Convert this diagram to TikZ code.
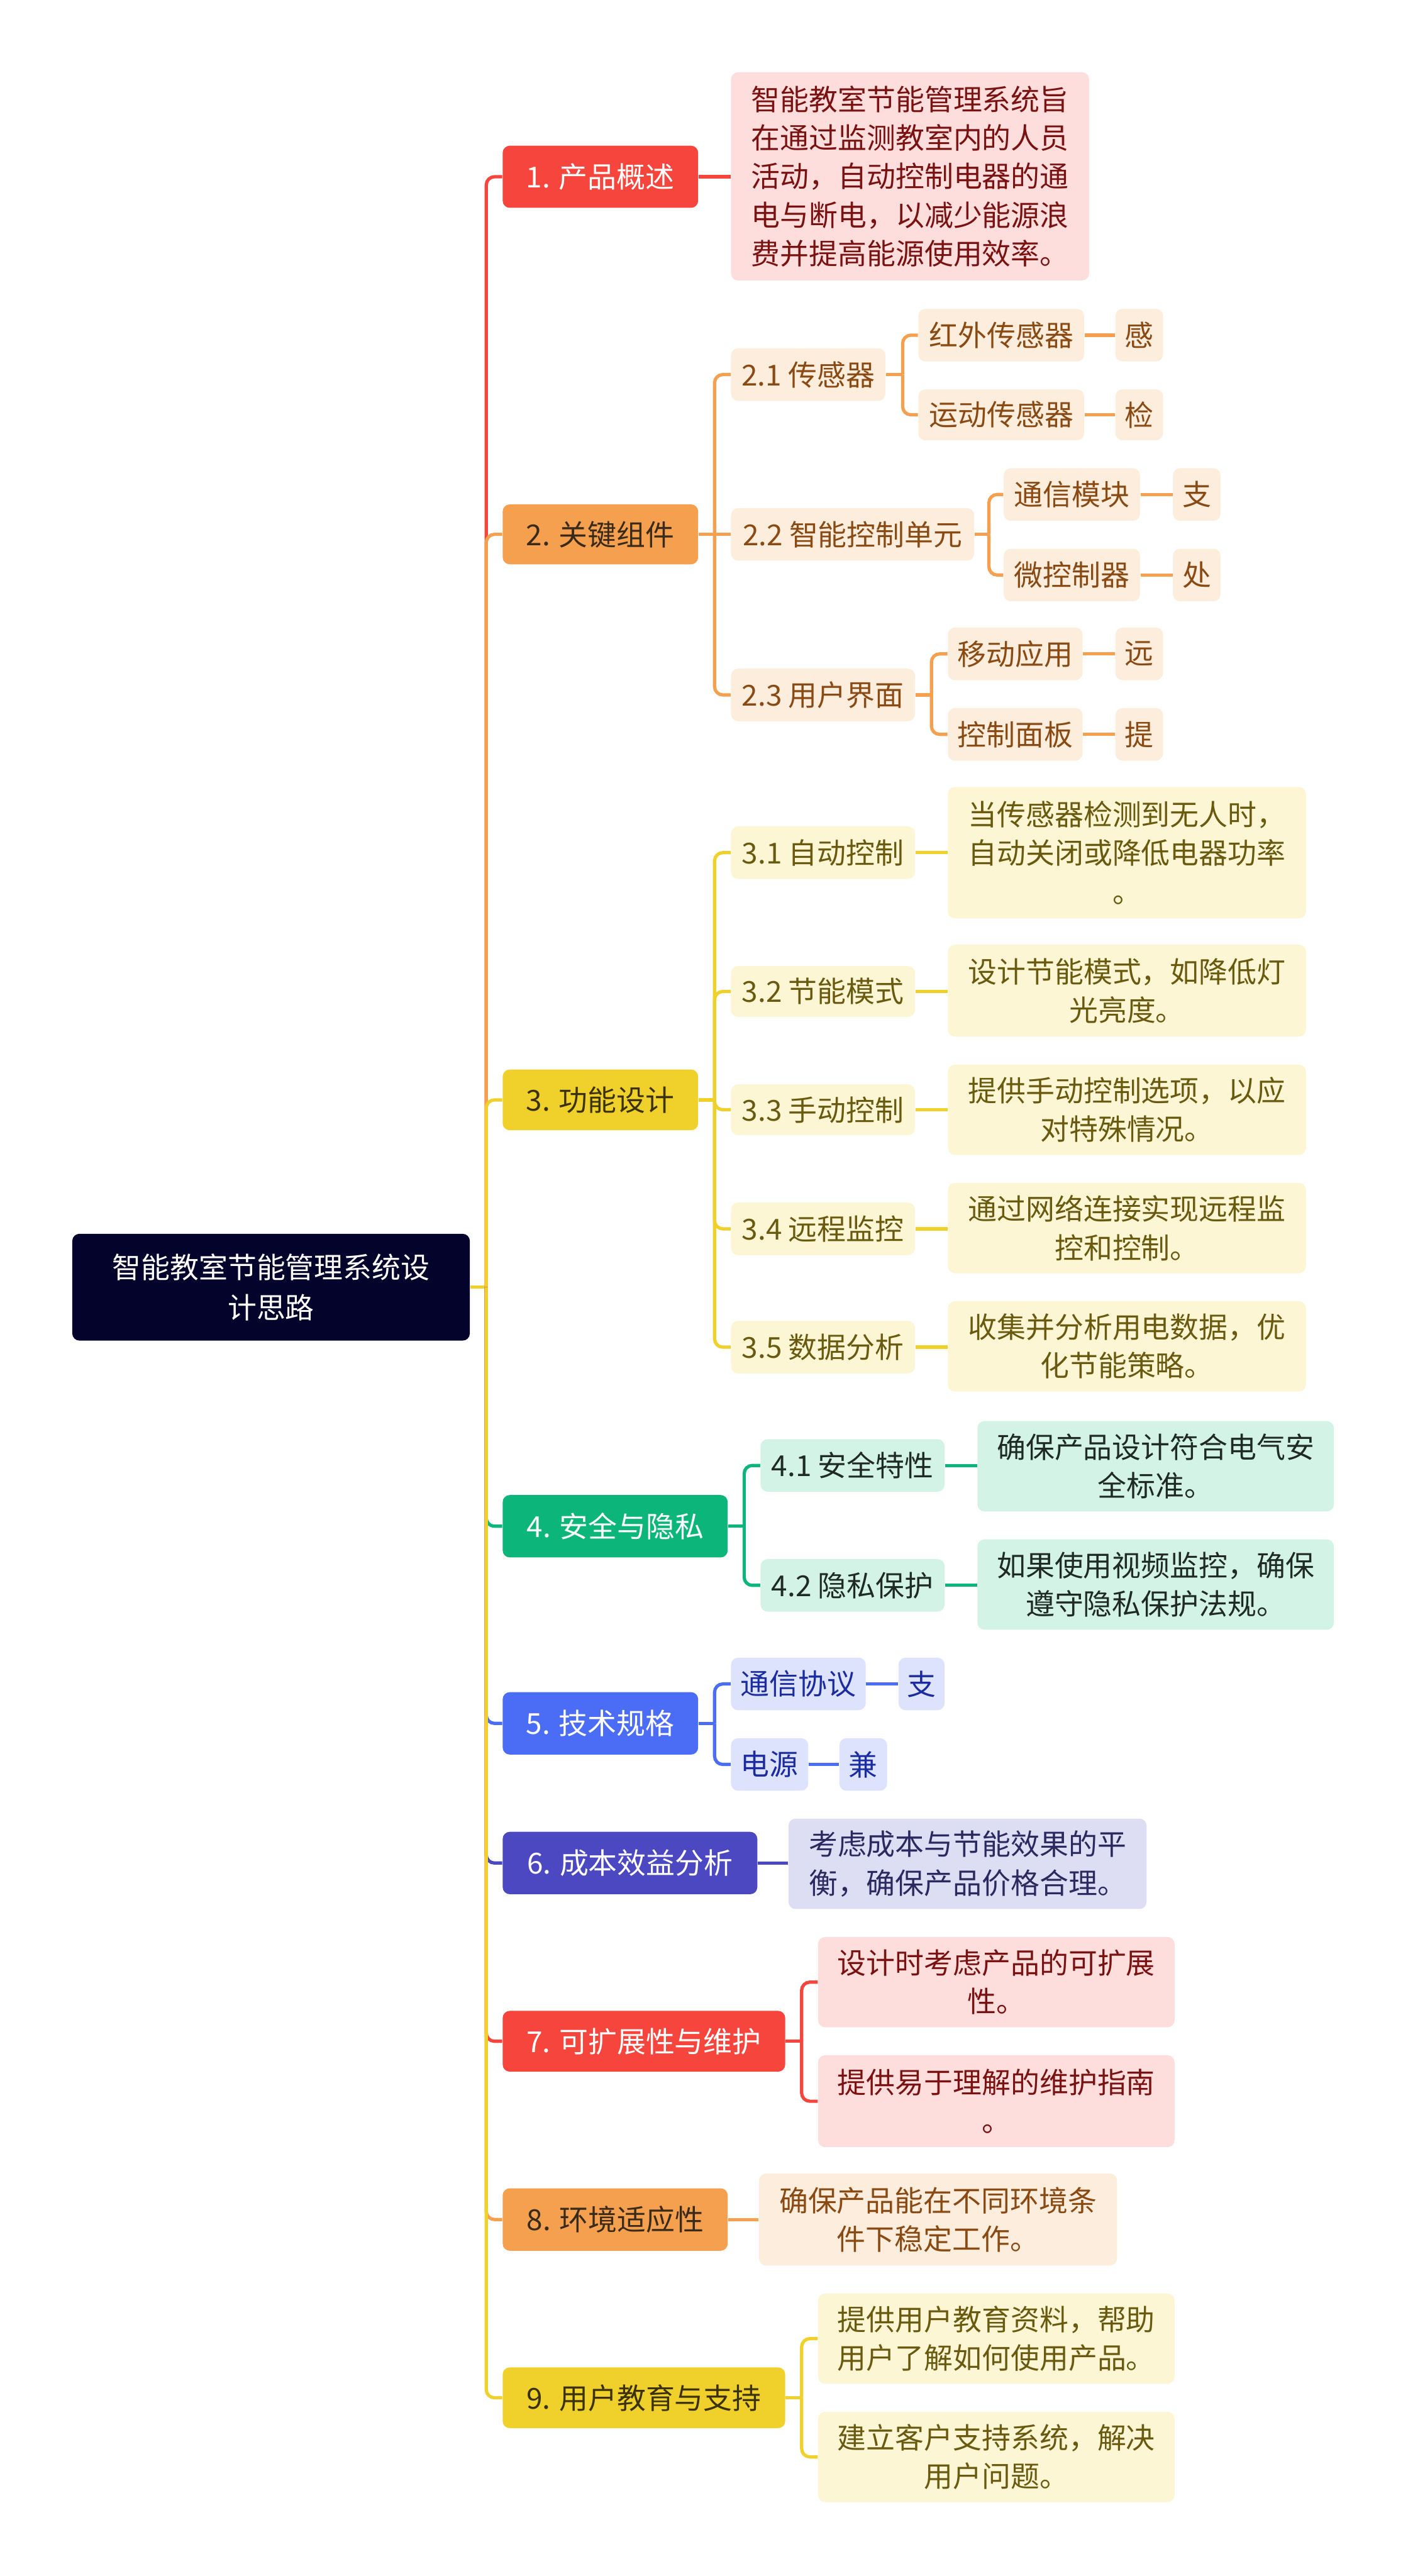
\documentclass[tikz,border=0pt]{standalone}
\usepackage{fontspec}
\newfontfamily\cjk{Noto Sans CJK SC}
\definecolor{cRed}{HTML}{F5453C}
\definecolor{cOrange}{HTML}{F5A04F}
\definecolor{cYellow}{HTML}{F0D02B}
\definecolor{cGreen}{HTML}{0CB67A}
\definecolor{cBlue}{HTML}{4B6DF5}
\definecolor{cIndigo}{HTML}{4C48C2}
\definecolor{cRoot}{HTML}{03032B}
\definecolor{fPink}{HTML}{FDDEDD}
\definecolor{tPink}{HTML}{7B1212}
\definecolor{fPeach}{HTML}{FDEDDC}
\definecolor{tPeach}{HTML}{8A4A14}
\definecolor{fLemon}{HTML}{FCF6D4}
\definecolor{tLemon}{HTML}{6A5A10}
\definecolor{fMint}{HTML}{D2F3E5}
\definecolor{tMint}{HTML}{1F2A25}
\definecolor{fSky}{HTML}{DDE3FC}
\definecolor{tSky}{HTML}{1B2CA0}
\definecolor{fLav}{HTML}{DDDDF3}
\definecolor{tLav}{HTML}{2A2A60}
\definecolor{tDarkO}{HTML}{3A2A1A}
\definecolor{tDarkY}{HTML}{3B3208}
\newcommand{\placebox}[7]{\node[#2, minimum width={(#5-#3)*0.03cm}, minimum height={(#6-#4)*0.03cm}] (#1) at ({(#3+#5)/2},{(#4+#6)/2}) {#7};}
\tikzset{
  box/.style={rounded corners=0.13cm, inner sep=0pt, align=center, font=\cjk\fontsize{15pt}{20pt}\selectfont},
  rootbox/.style={box, fill=cRoot, text=white, font=\cjk\fontsize{15pt}{21pt}\selectfont},
  lred/.style={box, fill=cRed, text=white},
  lorange/.style={box, fill=cOrange, text=tDarkO},
  lyellow/.style={box, fill=cYellow, text=tDarkY},
  lgreen/.style={box, fill=cGreen, text=white},
  lblue/.style={box, fill=cBlue, text=white},
  lindigo/.style={box, fill=cIndigo, text=white},
  pink/.style={box, fill=fPink, text=tPink},
  peach/.style={box, fill=fPeach, text=tPeach},
  lemon/.style={box, fill=fLemon, text=tLemon},
  mint/.style={box, fill=fMint, text=tMint},
  sky/.style={box, fill=fSky, text=tSky},
  lav/.style={box, fill=fLav, text=tLav},
  conn/.style={line width=1.7pt, rounded corners=0.15cm},
}
\begin{document}
\begin{tikzpicture}[x=0.03cm,y=-0.03cm]
\useasboundingbox (0,0) rectangle (857,1568);
% root
\placebox{root}{rootbox}{44}{751}{286}{816}{智能教室节能管理系统设\\计思路}
% level 1
\placebox{n1}{lred}{306}{88.7}{425}{126.5}{1. 产品概述}
\placebox{n2}{lorange}{306}{307}{425}{343.5}{2. 关键组件}
\placebox{n3}{lyellow}{306}{651}{425}{688}{3. 功能设计}
\placebox{n4}{lgreen}{306}{910}{443}{948}{4. 安全与隐私}
\placebox{n5}{lblue}{306}{1030}{425}{1068}{5. 技术规格}
\placebox{n6}{lindigo}{306}{1115}{461}{1153}{6. 成本效益分析}
\placebox{n7}{lred}{306}{1224}{478}{1261}{7. 可扩展性与维护}
\placebox{n8}{lorange}{306}{1332}{443}{1370}{8. 环境适应性}
\placebox{n9}{lyellow}{306}{1441}{478}{1478}{9. 用户教育与支持}
% 1
\placebox{d1}{pink}{445}{44}{663}{170.7}{智能教室节能管理系统旨\\在通过监测教室内的人员\\活动，自动控制电器的通\\电与断电，以减少能源浪\\费并提高能源使用效率。}
% 2
\placebox{n21}{peach}{445}{212}{539}{244}{2.1 传感器}
\placebox{n211}{peach}{559}{188}{660}{220}{红外传感器}
\placebox{n2111}{peach}{679}{188}{708}{220}{感}
\placebox{n212}{peach}{559}{237}{660}{268}{运动传感器}
\placebox{n2121}{peach}{679}{237}{708}{268}{检}
\placebox{n22}{peach}{445}{309.25}{593}{341.25}{2.2 智能控制单元}
\placebox{n221}{peach}{611}{285}{694}{317}{通信模块}
\placebox{n2211}{peach}{714}{285}{743}{317}{支}
\placebox{n222}{peach}{611}{334}{694}{366}{微控制器}
\placebox{n2221}{peach}{714}{334}{743}{366}{处}
\placebox{n23}{peach}{445}{407}{557}{439}{2.3 用户界面}
\placebox{n231}{peach}{577}{382}{659}{414}{移动应用}
\placebox{n2311}{peach}{679}{382}{708}{414}{远}
\placebox{n232}{peach}{577}{431}{659}{463}{控制面板}
\placebox{n2321}{peach}{679}{431}{708}{463}{提}
% 3
\placebox{n31}{lemon}{445}{503}{557}{535}{3.1 自动控制}
\placebox{d31}{lemon}{577}{479}{795}{559}{当传感器检测到无人时，\\自动关闭或降低电器功率\\。}
\placebox{n32}{lemon}{445}{588}{557}{619}{3.2 节能模式}
\placebox{d32}{lemon}{577}{575}{795}{631}{设计节能模式，如降低灯\\光亮度。}
\placebox{n33}{lemon}{445}{660}{557}{691}{3.3 手动控制}
\placebox{d33}{lemon}{577}{648}{795}{703}{提供手动控制选项，以应\\对特殊情况。}
\placebox{n34}{lemon}{445}{732}{557}{764}{3.4 远程监控}
\placebox{d34}{lemon}{577}{720}{795}{775}{通过网络连接实现远程监\\控和控制。}
\placebox{n35}{lemon}{445}{804}{557}{836}{3.5 数据分析}
\placebox{d35}{lemon}{577}{792}{795}{847}{收集并分析用电数据，优\\化节能策略。}
% 4
\placebox{n41}{mint}{463}{876}{575}{908}{4.1 安全特性}
\placebox{d41}{mint}{595}{865}{812}{920}{确保产品设计符合电气安\\全标准。}
\placebox{n42}{mint}{463}{949}{575}{981}{4.2 隐私保护}
\placebox{d42}{mint}{595}{937}{812}{992}{如果使用视频监控，确保\\遵守隐私保护法规。}
% 5
\placebox{n51}{sky}{445}{1009}{527}{1041}{通信协议}
\placebox{n511}{sky}{547}{1009}{575}{1041}{支}
\placebox{n52}{sky}{445}{1058}{492}{1090}{电源}
\placebox{n521}{sky}{511}{1058}{540}{1090}{兼}
% 6
\placebox{d6}{lav}{480}{1107}{698}{1162}{考虑成本与节能效果的平\\衡，确保产品价格合理。}
% 7
\placebox{d71}{pink}{498}{1179}{715}{1234}{设计时考虑产品的可扩展\\性。}
\placebox{d72}{pink}{498}{1251}{715}{1307}{提供易于理解的维护指南\\。}
% 8
\placebox{d8}{peach}{462}{1323}{680}{1379}{确保产品能在不同环境条\\件下稳定工作。}
% 9
\placebox{d91}{lemon}{498}{1396}{715}{1451}{提供用户教育资料，帮助\\用户了解如何使用产品。}
\placebox{d92}{lemon}{498}{1468}{715}{1523}{建立客户支持系统，解决\\用户问题。}

% ---------- connectors ----------
\coordinate (t) at (296,783.5);
\draw[conn, cYellow] (root.east) -- (t);
\draw[conn, cRed] (t) |- (n1.west);
\draw[conn, cOrange] (t) |- (n2.west);
\draw[conn, cYellow] (t) |- (n3.west);
\draw[conn, cGreen] (t) |- (n4.west);
\draw[conn, cBlue] (t) |- (n5.west);
\draw[conn, cIndigo] (t) |- (n6.west);
\draw[conn, cRed] (t) |- (n7.west);
\draw[conn, cOrange] (t) |- (n8.west);
\draw[conn, cYellow] (t) |- (n9.west);
% 1
\draw[conn, cRed] (n1.east) -- (n1.east -| d1.west);
% 2
\coordinate (j2) at (435,325.25);
\draw[conn, cOrange] (n2.east) -- (n22.west);
\draw[conn, cOrange] (j2) |- (n21.west);
\draw[conn, cOrange] (j2) |- (n23.west);
\coordinate (j21) at (549.5,228);
\draw[conn, cOrange] (n21.east) -- (j21);
\draw[conn, cOrange] (j21) |- (n211.west);
\draw[conn, cOrange] (j21) |- (n212.west);
\coordinate (j22) at (602,325.25);
\draw[conn, cOrange] (n22.east) -- (j22);
\draw[conn, cOrange] (j22) |- (n221.west);
\draw[conn, cOrange] (j22) |- (n222.west);
\coordinate (j23) at (567,423);
\draw[conn, cOrange] (n23.east) -- (j23);
\draw[conn, cOrange] (j23) |- (n231.west);
\draw[conn, cOrange] (j23) |- (n232.west);
\draw[conn, cOrange] (n211.east) -- (n2111.west);
\draw[conn, cOrange] (n212.east) -- (n2121.west);
\draw[conn, cOrange] (n221.east) -- (n2211.west);
\draw[conn, cOrange] (n222.east) -- (n2221.west);
\draw[conn, cOrange] (n231.east) -- (n2311.west);
\draw[conn, cOrange] (n232.east) -- (n2321.west);
% 3
\coordinate (j3) at (435,669.5);
\draw[conn, cYellow] (n3.east) -- (j3);
\foreach \c in {n31,n32,n33,n34,n35} {\draw[conn, cYellow] (j3) |- (\c.west);}
\draw[conn, cYellow] (n31.east) -- (n31.east -| d31.west);
\draw[conn, cYellow] (n32.east) -- (n32.east -| d32.west);
\draw[conn, cYellow] (n33.east) -- (n33.east -| d33.west);
\draw[conn, cYellow] (n34.east) -- (n34.east -| d34.west);
\draw[conn, cYellow] (n35.east) -- (n35.east -| d35.west);
% 4
\coordinate (j4) at (453,929);
\draw[conn, cGreen] (n4.east) -- (j4);
\draw[conn, cGreen] (j4) |- (n41.west);
\draw[conn, cGreen] (j4) |- (n42.west);
\draw[conn, cGreen] (n41.east) -- (n41.east -| d41.west);
\draw[conn, cGreen] (n42.east) -- (n42.east -| d42.west);
% 5
\coordinate (j5) at (435,1049);
\draw[conn, cBlue] (n5.east) -- (j5);
\draw[conn, cBlue] (j5) |- (n51.west);
\draw[conn, cBlue] (j5) |- (n52.west);
\draw[conn, cBlue] (n51.east) -- (n511.west);
\draw[conn, cBlue] (n52.east) -- (n521.west);
% 6
\draw[conn, cIndigo] (n6.east) -- (n6.east -| d6.west);
% 7
\coordinate (j7) at (488,1242.5);
\draw[conn, cRed] (n7.east) -- (j7);
\draw[conn, cRed] (j7) |- (d71.west);
\draw[conn, cRed] (j7) |- (d72.west);
% 8
\draw[conn, cOrange] (n8.east) -- (n8.east -| d8.west);
% 9
\coordinate (j9) at (488,1459.5);
\draw[conn, cYellow] (n9.east) -- (j9);
\draw[conn, cYellow] (j9) |- (d91.west);
\draw[conn, cYellow] (j9) |- (d92.west);
\end{tikzpicture}
\end{document}
